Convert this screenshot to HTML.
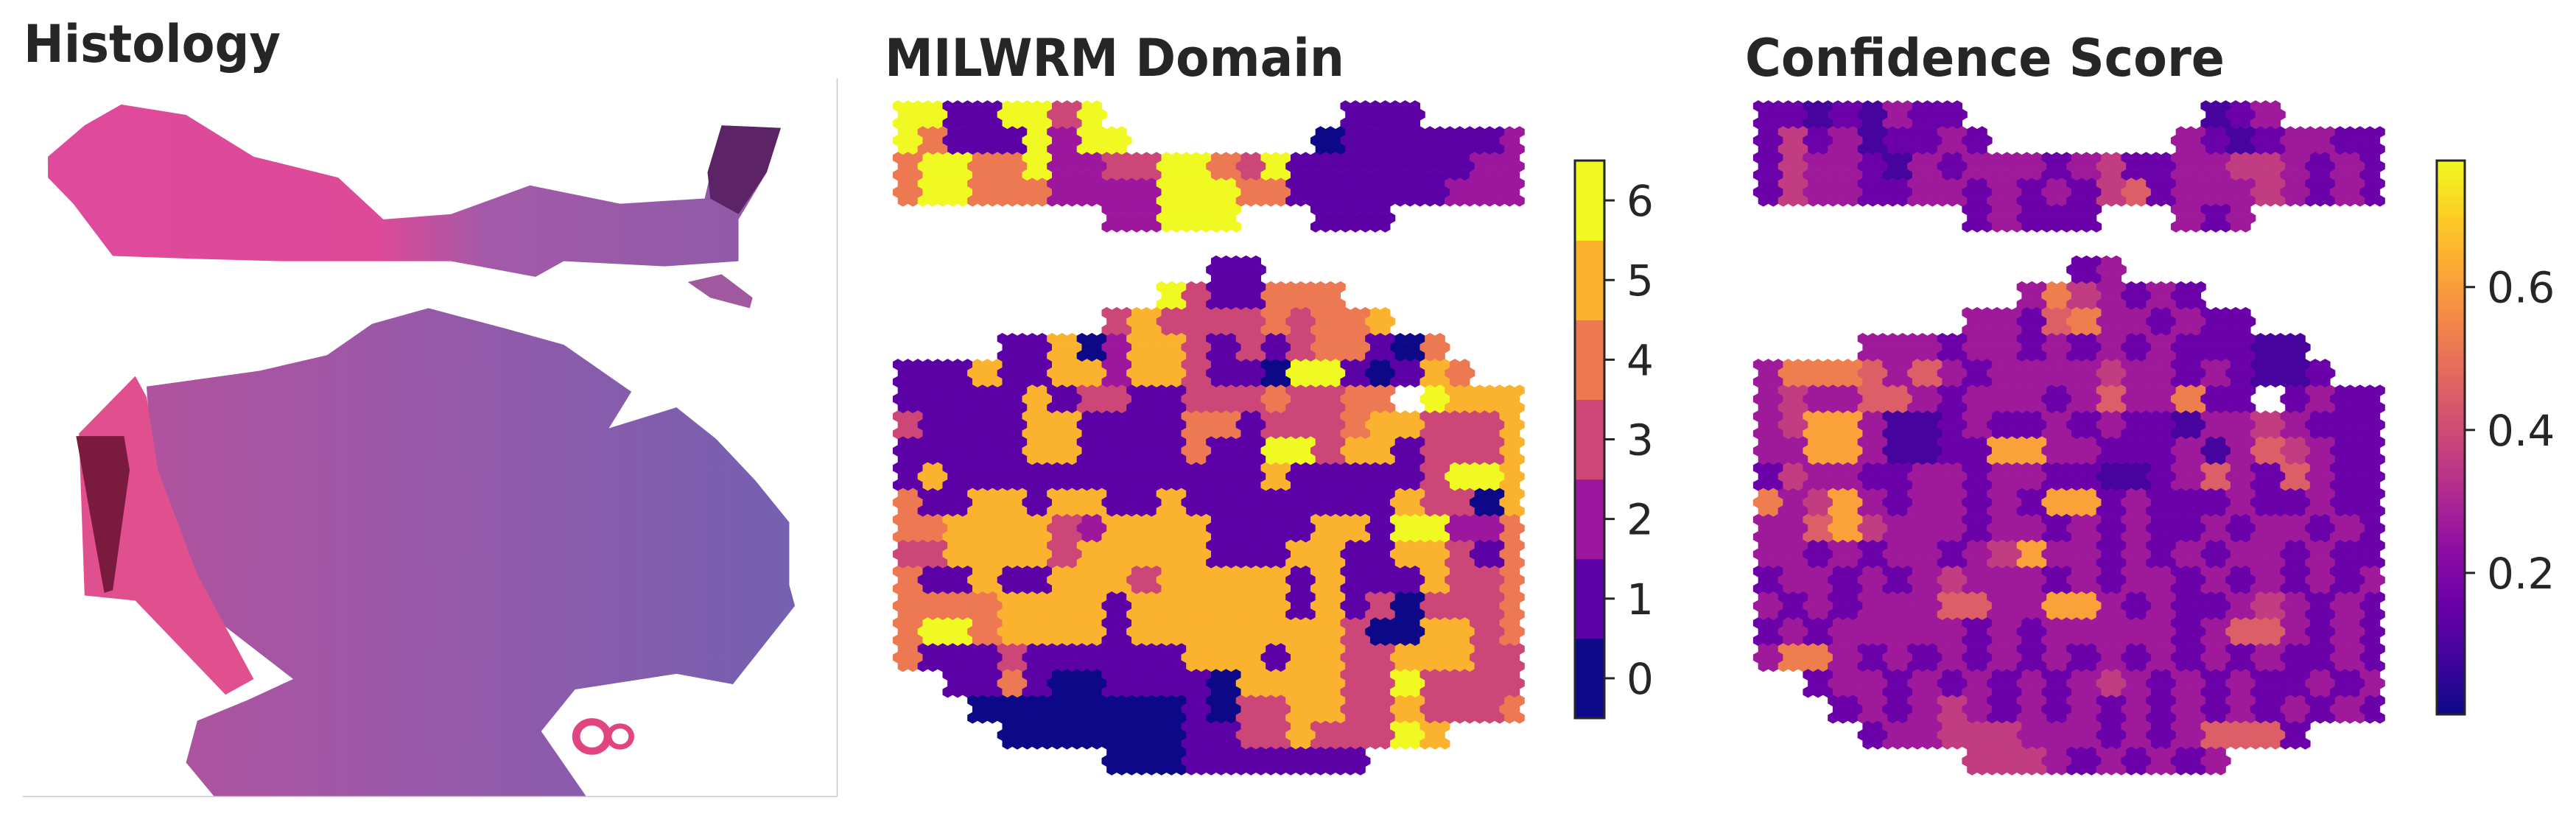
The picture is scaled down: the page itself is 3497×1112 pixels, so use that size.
<!DOCTYPE html>
<html><head><meta charset="utf-8"><style>
html,body{margin:0;padding:0;background:#fff;}
#wrap{position:relative;width:3497px;height:1112px;overflow:hidden;}
svg text{font-family:"DejaVu Sans","Liberation Sans",sans-serif;fill:#262626;}
</style></head><body>
<div id="wrap">
<svg id="histo" style="position:absolute;left:0;top:0" width="1200" height="1112" viewBox="0 0 1568 1568" preserveAspectRatio="none">
<defs>
<linearGradient id="gTop" x1="0" x2="1" y1="0" y2="0"><stop offset="0" stop-color="#e04a9c"/><stop offset="0.45" stop-color="#dc4a98"/><stop offset="0.6" stop-color="#a25aa8"/><stop offset="1" stop-color="#8d5aa8"/></linearGradient>
<linearGradient id="gMain" x1="0" x2="1" y1="0" y2="0"><stop offset="0" stop-color="#b0539e"/><stop offset="0.4" stop-color="#9a58a8"/><stop offset="1" stop-color="#7560b0"/></linearGradient>
</defs>
<polygon fill="url(#gTop)" points="85,300 150,240 215,200 330,220 450,300 600,340 680,420 800,410 940,355 1100,390 1250,380 1280,240 1385,245 1360,330 1310,420 1310,500 1180,510 1000,500 950,530 800,500 650,500 500,500 330,495 200,490 130,390 85,340"/>
<polygon fill="#5c2366" points="1255,330 1280,240 1385,245 1360,330 1310,410 1260,380"/>
<polygon fill="url(#gMain)" points="260,740 460,710 580,680 660,620 760,590 900,630 1000,660 1120,750 1080,820 1200,780 1270,840 1340,920 1400,1000 1400,1120 1410,1160 1300,1310 1200,1290 1020,1320 960,1400 1040,1525 380,1525 330,1460 350,1380 440,1340 520,1300 400,1200 310,1100 270,900"/>
<polygon fill="#e0508f" points="140,830 240,720 260,760 280,900 350,1100 450,1300 400,1330 240,1150 150,1140"/>
<polygon fill="#7a1a3e" points="135,835 220,835 230,900 200,1130 185,1135"/>
<polygon fill="#a0589e" points="1220,540 1280,525 1335,570 1330,590 1260,570"/>
<circle cx="1050" cy="1410" r="28" fill="none" stroke="#e0457f" stroke-width="14"/>
<circle cx="1100" cy="1410" r="20" fill="none" stroke="#e0457f" stroke-width="10"/>
<line x1="1485" y1="150" x2="1485" y2="1525" stroke="#c8c8c8" stroke-width="2"/>
<line x1="40" y1="1525" x2="1485" y2="1525" stroke="#c8c8c8" stroke-width="2"/>
</svg>
<svg id="main" style="position:absolute;left:0;top:0" width="3497" height="1112">
<text x="32" y="84" font-size="70" font-weight="bold" textLength="349" lengthAdjust="spacingAndGlyphs">Histology</text>
<text x="1201" y="103" font-size="70" font-weight="bold" textLength="624" lengthAdjust="spacingAndGlyphs">MILWRM Domain</text>
<text x="2369" y="103" font-size="70" font-weight="bold" textLength="651" lengthAdjust="spacingAndGlyphs">Confidence Score</text>
<g id="gMil"></g>
<g id="gConf"></g>
<g id="cb1"></g>
<g id="cb2"></g>
</svg>
</div>
<script>
// MILWRM domain per coarse tissue cell (24 cols x 26 rows), '.' = no spot
const milwrmRows = [
"66116636.........111....",
"641116266.......01111112",
"466446223366436111111122",
"466444222266644111111222",
"........22666...111.....",
"........................",
"............11..........",
"..........6311444.......",
"........35333343445.....",
"....11502553131344104...",
"1115115525531106610154..",
"1111151331133343344.6555",
"311115511114413334553335",
"111115511114116635513335",
"151111111111115111113665",
"411551551151111111153305",
"445555325555111155166224",
"335555355555111551155314",
"411511555355555151115334",
"444455551555555151303334",
"466455551555555553005534",
"411131111115551553355533",
"..1141001111055553363333",
"...000000001033553353334",
"....00000001133533365...",
"........0001111111......"
];
// confidence level digit per coarse cell
const confRows = [
"221213222322232221232222",
"242312232222322232123322",
"243321323332342233443232",
"243322332323245233343232",
"232322222322232232322322",
"222222222222222222222222",
"222222222222232322222222",
"222222222236432322222222",
"222222223325633232222222",
"222333323323232322211222",
"366653532333343323211232",
"343355323332353362232322",
"347731123223232213343222",
"337731122773322231354322",
"243322332332211235325322",
"634732332327723222322322",
"335743332332323223233232",
"332323323473323232332322",
"233232343332323323232323",
"323233355337732322343232",
"232333332323333323553232",
"366323232323232323232232",
"232332323232343232322323",
"323232343232323232323232",
"232323344433323235552323",
"323232334443232323232323"
];
const confLevels = [0.02,0.09,0.16,0.27,0.36,0.45,0.53,0.61,0.69,0.77];
const domainColors = ["#0d0887","#5c01a6","#9c179e","#cc4778","#ed7953","#fbb32f","#f0f921"];
const domainTicks = [0,1,2,3,4,5,6];
const confTicks = [0.2,0.4,0.6];
const confTickLabels = ["0.2","0.4","0.6"];
const confMin = 0.002, confMax = 0.777;

const NS="http://www.w3.org/2000/svg";
const plasmaStops=["#0d0887","#41049d","#6a00a8","#8f0da4","#b12a90","#cc4778","#e16462","#f2844b","#fca636","#fcce25","#f0f921"];
function hx(c){return [parseInt(c.slice(1,3),16),parseInt(c.slice(3,5),16),parseInt(c.slice(5,7),16)];}
function plasma(t){t=Math.max(0,Math.min(1,t));const p=t*10,i=Math.min(9,Math.floor(p)),f=p-i;
 const a=hx(plasmaStops[i]),b=hx(plasmaStops[i+1]);
 return "rgb("+a.map((v,k)=>Math.round(v+(b[k]-v)*f)).join(",")+")";}

const NC=24, NR=26;
const panelW=861, panelY=138, panelH=912;
const dx=13.5, R=7.9, dy=11.7;
function hexPts(cx,cy){const w=dx/2+0.3;
 return [[cx,cy-R],[cx+w,cy-R/2],[cx+w,cy+R/2],[cx,cy+R],[cx-w,cy+R/2],[cx-w,cy-R/2]].map(p=>p[0].toFixed(1)+","+p[1].toFixed(1)).join(" ");}
function drawPanel(gid,x0,colorFor){
 const g=document.getElementById(gid);
 for(let j=0;;j++){
  const cy=panelY+6+j*dy; if(cy>panelY+panelH-4) break;
  const r=Math.floor((cy-panelY)/panelH*NR);
  for(let i=0;;i++){
   const cx=x0+7+i*dx+(j%2?dx/2:0); if(cx>x0+panelW-4) break;
   const c=Math.floor((cx-x0)/panelW*NC);
   const ch=(milwrmRows[r]||"").charAt(c);
   if(!ch||ch===".") continue;
   const p=document.createElementNS(NS,"polygon");
   p.setAttribute("points",hexPts(cx,cy));
   p.setAttribute("fill",colorFor(r,c,ch));
   
   
   g.appendChild(p);
  }
 }
}
drawPanel("gMil",1212,(r,c,ch)=>domainColors[+ch]);
drawPanel("gConf",2380,(r,c,ch)=>{const d=(confRows[r]||"").charAt(c)||"2";const v=confLevels[+d];return plasma((v-confMin)/(confMax-confMin));});

function el(tag,attrs,parent){const e=document.createElementNS(NS,tag);for(const k in attrs)e.setAttribute(k,attrs[k]);parent.appendChild(e);return e;}
(function(){
 const g=document.getElementById("cb1");const x=2138,w=40,top=218,bot=975;
 const n=domainColors.length,seg=(bot-top)/n;
 const yOf=v=>bot-(v+0.5)*seg;
 domainColors.forEach((col,k)=>{const r=el("rect",{x:x,y:(bot-(k+1)*seg).toFixed(1),width:w,height:(seg+0.6).toFixed(1),fill:col},g);
  
  });
 const b=el("rect",{x:x,y:top,width:w,height:bot-top,fill:"none",stroke:"#262626","stroke-width":3},g);
 
 
 domainTicks.forEach(v=>{const y=yOf(v);
  const t=el("line",{x1:x+w,x2:x+w+14,y1:y,y2:y,stroke:"#262626","stroke-width":3},g);
  
  
  const tx=el("text",{x:2208,y:y+21,"font-size":58},g);tx.textContent=String(v);
  
  });
})();
(function(){
 const svg=document.getElementById("main");
 const defs=el("defs",{},svg);
 const lg=el("linearGradient",{id:"plasmaG",x1:0,x2:0,y1:1,y2:0},defs);
 plasmaStops.forEach((c,k)=>el("stop",{offset:k/10,"stop-color":c},lg));
 const g=document.getElementById("cb2");const x=3308,w=38,top=218,bot=970;
 const r=el("rect",{x:x,y:top,width:w,height:bot-top,fill:"url(#plasmaG)",stroke:"#262626","stroke-width":3},g);
 
 
 const yOf=v=>bot-(v-confMin)/(confMax-confMin)*(bot-top);
 confTicks.forEach((v,k)=>{const y=yOf(v);
  const t=el("line",{x1:x+w,x2:x+w+14,y1:y,y2:y,stroke:"#262626","stroke-width":3},g);
  
  
  const tx=el("text",{x:3376,y:y+21,"font-size":58},g);tx.textContent=confTickLabels[k];
  
  });
})();
</script>
</body></html>
